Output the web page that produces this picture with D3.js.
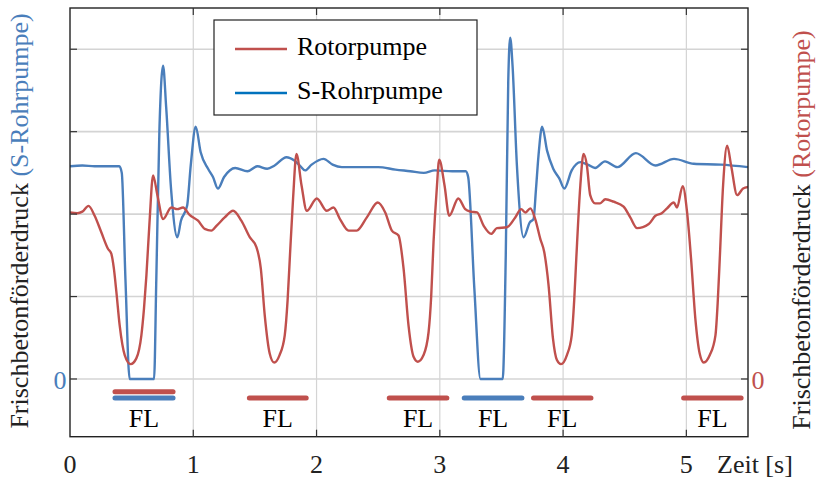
<!DOCTYPE html>
<html>
<head>
<meta charset="utf-8">
<script src="https://cdn.jsdelivr.net/npm/d3@7"></script>
<style>
  body { margin: 0; background: #fff; }
  text { font-family: "Liberation Serif", "Times New Roman", serif; }
</style>
</head>
<body>
<div id="chart"></div>
<script>
// time axis [s]
const xTicks = [0, 1, 2, 3, 4, 5];
const yGrid = [0, 1, 2, 3, 4];

// S-Rohrpumpe pressure
const sRohrTime = [0, 0.1, 0.2, 0.3, 0.40, 0.42, 0.45, 0.484, 0.682, 0.70, 0.725, 0.755, 0.78, 0.82, 0.871,
  0.90, 0.95, 0.98, 1.02, 1.06, 1.12, 1.16, 1.20, 1.25, 1.34, 1.44, 1.52, 1.60, 1.66, 1.756, 1.82, 1.87,
  1.907, 1.96, 2.056, 2.13, 2.205, 2.35, 2.50, 2.64, 2.76, 2.87, 2.96, 3.10, 3.21, 3.23, 3.28, 3.33, 3.51,
  3.535, 3.555, 3.571, 3.59, 3.625, 3.68, 3.73, 3.76, 3.78, 3.80, 3.83, 3.87, 3.92, 3.97, 4.01, 4.07, 4.14,
  4.20, 4.26, 4.34, 4.44, 4.59, 4.75, 4.90, 5.06, 5.28, 5.50];
const sRohrPressure = [2.58, 2.59, 2.58, 2.58, 2.58, 2.50, 1.20, 0, 0, 1.2, 3.0, 3.80, 3.3, 2.3, 1.72,
  1.92, 2.1, 2.6, 3.06, 2.75, 2.55, 2.45, 2.31, 2.45, 2.56, 2.52, 2.58, 2.55, 2.59, 2.69, 2.65, 2.58,
  2.53, 2.60, 2.67, 2.60, 2.57, 2.57, 2.57, 2.54, 2.52, 2.50, 2.53, 2.52, 2.52, 2.45, 1.10, 0, 0,
  1.5, 3.6, 4.14, 3.8, 2.6, 1.72, 1.90, 1.94, 2.3, 2.7, 3.06, 2.77, 2.55, 2.43, 2.31, 2.53, 2.63,
  2.60, 2.56, 2.64, 2.57, 2.74, 2.59, 2.67, 2.61, 2.60, 2.57];

// Rotorpumpe pressure
const rotorTime = [0, 0.06, 0.10, 0.15, 0.20, 0.254, 0.308, 0.335, 0.355, 0.376, 0.403, 0.444, 0.492, 0.538,
  0.579, 0.60, 0.62, 0.645, 0.674, 0.709, 0.755, 0.822, 0.87, 0.917, 0.97, 1.039, 1.093, 1.147, 1.19, 1.255,
  1.323, 1.39, 1.458, 1.512, 1.548, 1.58, 1.62, 1.656, 1.70, 1.742, 1.765, 1.783, 1.81, 1.837, 1.878, 1.921,
  2.002, 2.083, 2.137, 2.19, 2.26, 2.326, 2.408, 2.497, 2.557, 2.611, 2.665, 2.706, 2.746, 2.787, 2.822,
  2.868, 2.909, 2.93, 2.949, 2.975, 2.995, 3.038, 3.076, 3.15, 3.206, 3.25, 3.302, 3.355, 3.417, 3.463,
  3.544, 3.612, 3.66, 3.693, 3.734, 3.774, 3.815, 3.847, 3.882, 3.918, 3.95, 3.983, 4.031, 4.07, 4.09,
  4.107, 4.14, 4.166, 4.193, 4.22, 4.26, 4.30, 4.343, 4.41, 4.491, 4.545, 4.60, 4.695, 4.749, 4.80, 4.843,
  4.898, 4.924, 4.97, 5.006, 5.038, 5.073, 5.108, 5.141, 5.19, 5.236, 5.255, 5.271, 5.298, 5.331, 5.363,
  5.412, 5.46, 5.506];
const rotorPressure = [2.02, 2.01, 2.03, 2.10, 1.98, 1.78, 1.58, 1.52, 1.35, 1.06, 0.65, 0.29, 0.18, 0.25,
  0.53, 0.85, 1.26, 1.9, 2.47, 2.23, 1.94, 2.08, 2.06, 2.08, 1.99, 1.92, 1.82, 1.80, 1.86, 1.96,
  2.04, 1.92, 1.72, 1.60, 1.34, 0.77, 0.31, 0.20, 0.29, 0.53, 0.95, 1.46, 2.2, 2.73, 2.35, 2.04,
  2.19, 2.04, 2.08, 1.94, 1.80, 1.80, 1.96, 2.14, 2.02, 1.80, 1.74, 1.34, 0.65, 0.27, 0.21,
  0.29, 0.57, 1.0, 1.66, 2.3, 2.66, 2.35, 1.98, 2.19, 2.06, 2.03, 2.02, 1.86, 1.76, 1.83,
  1.84, 1.96, 2.06, 2.02, 2.07, 1.94, 1.70, 1.54, 1.14, 0.49, 0.23, 0.18, 0.29, 0.53, 0.95,
  1.46, 2.35, 2.73, 2.59, 2.23, 2.13, 2.13, 2.18, 2.15, 2.09, 1.96, 1.83, 1.88, 1.98, 2.01, 2.07,
  2.14, 2.08, 2.34, 2.02, 1.46, 0.73, 0.31, 0.20, 0.29, 0.53, 0.95, 1.46, 2.35, 2.83, 2.59,
  2.23, 2.31, 2.33];

// FL (Förderlücke) intervals [start, end] in s
const flRotor = [[0.365, 0.836], [1.455, 1.916], [2.59, 3.057], [3.76, 4.226], [4.978, 5.444]];
const flSRohr = [[0.365, 0.836], [3.198, 3.666]];

const colRotor = "#c0504d";
const colSRohr = "#4a7ebb";

const width = 821, height = 478;
const plot = {left: 70, right: 748, top: 8, bottom: 436.7};

const svg = d3.select("#chart").append("svg")
    .attr("width", width)
    .attr("height", height);

const x = d3.scaleLinear().domain([0, 5.5]).range([plot.left, plot.right]);
const y = d3.scaleLinear().domain([-0.7, 4.5]).range([plot.bottom, plot.top]);

// grid
svg.append("g").selectAll("line").data(xTicks.slice(1))
    .join("line")
    .attr("x1", d => x(d)).attr("x2", d => x(d))
    .attr("y1", plot.top).attr("y2", plot.bottom)
    .attr("stroke", "#d4d4d4").attr("stroke-width", 1.2);
svg.append("g").selectAll("line").data(yGrid)
    .join("line")
    .attr("x1", plot.left).attr("x2", plot.right)
    .attr("y1", d => y(d)).attr("y2", d => y(d))
    .attr("stroke", "#d4d4d4").attr("stroke-width", 1.6);

// clip for curves
svg.append("clipPath").attr("id", "clip")
    .append("rect")
    .attr("x", plot.left).attr("y", plot.top)
    .attr("width", plot.right - plot.left).attr("height", plot.bottom - plot.top);

const line = d3.line()
    .x(d => x(d[0]))
    .y(d => y(d[1]))
    .curve(d3.curveMonotoneX);

const sRohrData = sRohrTime.map((t, i) => [t, sRohrPressure[i]]);
const rotorData = rotorTime.map((t, i) => [t, rotorPressure[i]]);

const curves = svg.append("g").attr("clip-path", "url(#clip)");
curves.append("path").datum(sRohrData)
    .attr("d", line)
    .attr("fill", "none")
    .attr("stroke", colSRohr)
    .attr("stroke-width", 2.4)
    .attr("stroke-linejoin", "round");
curves.append("path").datum(rotorData)
    .attr("d", line)
    .attr("fill", "none")
    .attr("stroke", colRotor)
    .attr("stroke-width", 2.4)
    .attr("stroke-linejoin", "round");

// FL bars
const yBarLow = 398, yBarHigh = 391.7;
const flBars = [];
flRotor.forEach(d => {
    const shared = flSRohr.some(s => s[0] === d[0]);
    flBars.push({range: d, color: colRotor, y: shared ? yBarHigh : yBarLow});
});
flSRohr.forEach(d => flBars.push({range: d, color: colSRohr, y: yBarLow}));

svg.append("g").selectAll("line").data(flBars)
    .join("line")
    .attr("x1", d => x(d.range[0])).attr("x2", d => x(d.range[1]))
    .attr("y1", d => d.y).attr("y2", d => d.y)
    .attr("stroke", d => d.color)
    .attr("stroke-width", 5)
    .attr("stroke-linecap", "round");

const flLabels = flRotor.concat(flSRohr.filter(s => !flRotor.some(r => r[0] === s[0])));
svg.append("g").selectAll("text").data(flLabels)
    .join("text")
    .attr("x", d => x((d[0] + d[1]) / 2))
    .attr("y", 426.5)
    .attr("text-anchor", "middle")
    .attr("font-size", 26)
    .text("FL");

// frame
svg.append("rect")
    .attr("x", plot.left).attr("y", plot.top)
    .attr("width", plot.right - plot.left).attr("height", plot.bottom - plot.top)
    .attr("fill", "none")
    .attr("stroke", "#222")
    .attr("stroke-width", 1.4);

// inward ticks
const tickLen = 7;
const ticks = svg.append("g").attr("stroke", "#333").attr("stroke-width", 1.2);
xTicks.slice(1).forEach(t => {
    ticks.append("line").attr("x1", x(t)).attr("x2", x(t)).attr("y1", plot.top).attr("y2", plot.top + tickLen);
    ticks.append("line").attr("x1", x(t)).attr("x2", x(t)).attr("y1", plot.bottom).attr("y2", plot.bottom - tickLen);
});
yGrid.forEach(v => {
    ticks.append("line").attr("x1", plot.left).attr("x2", plot.left + tickLen).attr("y1", y(v)).attr("y2", y(v));
    ticks.append("line").attr("x1", plot.right).attr("x2", plot.right - tickLen).attr("y1", y(v)).attr("y2", y(v));
});

// x tick labels
svg.append("g").selectAll("text").data(xTicks)
    .join("text")
    .attr("x", d => x(d))
    .attr("y", 473)
    .attr("text-anchor", "middle")
    .attr("font-size", 26)
    .attr("fill", "#222")
    .text(d => d);
svg.append("text")
    .attr("x", 717).attr("y", 473)
    .attr("font-size", 26)
    .attr("fill", "#222")
    .text("Zeit [s]");

// zero labels
svg.append("text").attr("x", 60).attr("y", y(0) + 10)
    .attr("text-anchor", "middle").attr("font-size", 26)
    .attr("fill", colSRohr).text("0");
svg.append("text").attr("x", 758).attr("y", y(0) + 10)
    .attr("text-anchor", "middle").attr("font-size", 26)
    .attr("fill", colRotor).text("0");

// y labels
const leftLabel = svg.append("text")
    .attr("transform", "translate(28,221) rotate(-90)")
    .attr("text-anchor", "middle")
    .attr("font-size", 26)
    .attr("fill", "#222");
leftLabel.append("tspan").text("Frischbetonförderdruck ");
leftLabel.append("tspan").attr("fill", colSRohr).text("(S-Rohrpumpe)");

const rightLabel = svg.append("text")
    .attr("transform", "translate(810,230) rotate(-90)")
    .attr("text-anchor", "middle")
    .attr("font-size", 26)
    .attr("fill", "#222");
rightLabel.append("tspan").text("Frischbetonförderdruck ");
rightLabel.append("tspan").attr("fill", colRotor).text("(Rotorpumpe)");

// legend
const legend = svg.append("g");
legend.append("rect")
    .attr("x", 214).attr("y", 20)
    .attr("width", 263).attr("height", 95)
    .attr("fill", "#fff")
    .attr("stroke", "#222")
    .attr("stroke-width", 1.2);
const legendItems = [
    {name: "Rotorpumpe", color: colRotor, y: 49},
    {name: "S-Rohrpumpe", color: "#0072bd", y: 93}
];
legendItems.forEach(d => {
    legend.append("line")
        .attr("x1", 235).attr("x2", 287)
        .attr("y1", d.y).attr("y2", d.y)
        .attr("stroke", d.color).attr("stroke-width", 2.6);
    legend.append("text")
        .attr("x", 297).attr("y", d.y + 6)
        .attr("font-size", 26)
        .text(d.name);
});
</script>
</body>
</html>
